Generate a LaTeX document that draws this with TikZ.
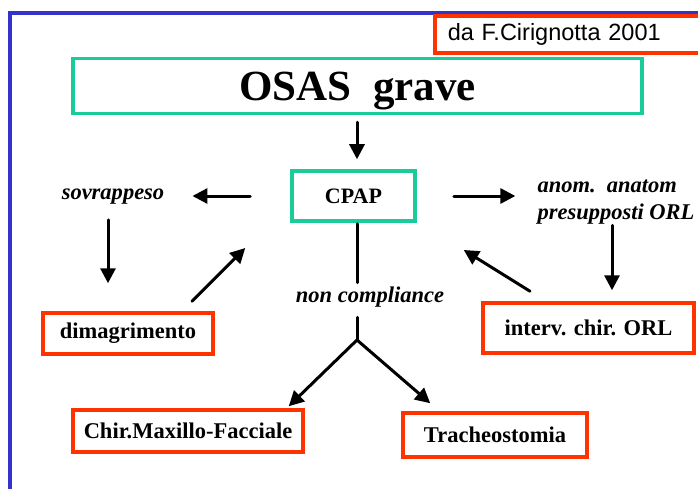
\documentclass[tikz,border=0pt]{standalone}
\usepackage{fontspec}
\setmainfont{Liberation Serif}
\newfontfamily\arialf{Liberation Sans}
\usetikzlibrary{arrows.meta,calc}
\definecolor{frameblue}{RGB}{51,51,204}
\definecolor{boxred}{RGB}{255,51,0}
\definecolor{boxteal}{RGB}{26,204,153}
\begin{document}
\begin{tikzpicture}[x=1pt,y=-1pt,
 redbox/.style={draw=boxred,line width=3.5pt,inner sep=0pt,font=\fontsize{22.5}{26}\selectfont\bfseries},
 tealbox/.style={draw=boxteal,line width=3.5pt,inner sep=0pt},
 lab/.style={inner sep=0pt,font=\fontsize{22.5}{27}\selectfont\bfseries\itshape},
 arr/.style={line width=3pt,line cap=round,-{Triangle[length=15pt,width=15pt]}},
 ln/.style={line width=3pt,line cap=round}]
\useasboundingbox (0,0) rectangle (698,489);
\fill[white] (0,0) rectangle (698,489);
\draw[frameblue,line width=4pt] (705,13) -- (10,13) -- (10,495);

\node[redbox, anchor=west, minimum height=37pt, text width=255pt, inner xsep=13pt, align=left,
  font=\arialf\fontsize{23.5}{27}\selectfont] (src) at (433,34.5) {da F.Cirignotta 2001};
\node[tealbox, minimum width=569pt, minimum height=55pt, text depth=0pt, font=\fontsize{43}{48}\selectfont\bfseries] (osas) at (357.5,86) {OSAS\ \ grave};
\node[tealbox, minimum width=123pt, minimum height=50pt, font=\fontsize{22}{26}\selectfont\bfseries] (cpap) at (353.5,196) {CPAP};
\node[redbox, minimum width=170pt, minimum height=41pt] (dim) at (128,333.5) {dimagrimento};
\node[redbox, minimum width=211pt, minimum height=50pt] (interv) at (588.5,328) {interv. chir. ORL};
\node[redbox, minimum width=230pt, minimum height=42pt] (chir) at (188,431) {Chir.Maxillo-Facciale};
\node[redbox, minimum width=184pt, minimum height=44pt] (trach) at (495,435) {Tracheostomia};

\node[lab] (sov) at (113,197) {sovrappeso};
\node[lab, align=left] (anom) at (616,202) {anom.\ \ anatom\\presupposti ORL};
\node[lab] (nc) at (370,297) {non compliance};
\coordinate (fork) at (357,340);

\draw[arr, shorten <=7pt, shorten >=10pt] ([xshift=3.5pt]cpap.north |- osas.south) -- ([xshift=3.5pt]cpap.north);
\draw[arr, shorten <=40pt, shorten >=28pt] (cpap.west) -- (cpap.west -| sov.east);
\draw[arr, shorten <=37pt, shorten >=22pt] (cpap.east) -- (cpap.east -| anom.west);
\draw[arr, shorten <=15pt, shorten >=28pt] ([xshift=-5pt]sov.south) -- ([xshift=-5pt]sov.south |- dim.north);
\draw[arr] ($(dim.north)+(64,-10)$) -- ($(cpap.west)+(-45,52)$);
\draw[arr] ($(interv.north)+(-58.5,-10)$) -- ($(cpap.east)+(47,54)$);
\draw[arr, shorten <=1pt, shorten >=11pt] ([xshift=-4pt]anom.south) -- ([xshift=-4pt]anom.south |- interv.north);
\draw[ln, shorten <=1pt, shorten >=4pt] ([xshift=3.5pt]cpap.south) -- ([xshift=3.5pt]cpap.south |- nc.north);
\draw[ln, shorten <=10pt] (fork |- nc.south) -- (fork);
\draw[arr] (fork) -- ($(chir.north east)+(-16,-2)$);
\draw[arr] (fork) -- ($(trach.north west)+(29,-8)$);
\end{tikzpicture}
\end{document}
